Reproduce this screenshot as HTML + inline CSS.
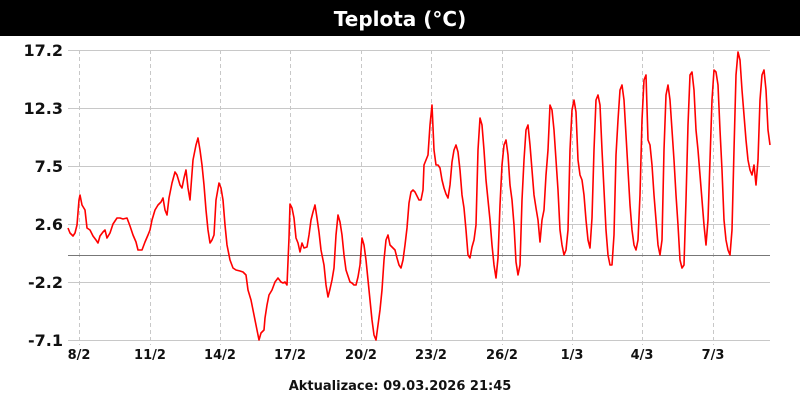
<!DOCTYPE html>
<html><head><meta charset="utf-8"><style>
body{margin:0;background:#fff;width:800px;height:400px;overflow:hidden;font-family:"DejaVu Sans","Liberation Sans",sans-serif}
</style></head><body>
<svg width="800" height="400" xmlns="http://www.w3.org/2000/svg" font-family="DejaVu Sans, Liberation Sans, sans-serif">
<rect x="0" y="0" width="800" height="36" fill="#000"/>
<text x="400" y="26" fill="#fff" font-size="20" font-weight="bold" text-anchor="middle">Teplota (°C)</text>
<g stroke="#c8c8c8" stroke-width="1">
<line x1="68" y1="50.5" x2="770" y2="50.5"/><line x1="68" y1="108.5" x2="770" y2="108.5"/>
<line x1="68" y1="166.5" x2="770" y2="166.5"/><line x1="68" y1="224.5" x2="770" y2="224.5"/>
<line x1="68" y1="282.5" x2="770" y2="282.5"/><line x1="68" y1="340.5" x2="770" y2="340.5"/>
</g>
<g stroke="#c8c8c8" stroke-width="1" stroke-dasharray="4,3">
<line x1="79.5" y1="50" x2="79.5" y2="345"/><line x1="150.5" y1="50" x2="150.5" y2="345"/>
<line x1="220.5" y1="50" x2="220.5" y2="345"/><line x1="290.5" y1="50" x2="290.5" y2="345"/>
<line x1="361.5" y1="50" x2="361.5" y2="345"/><line x1="431.5" y1="50" x2="431.5" y2="345"/>
<line x1="502.5" y1="50" x2="502.5" y2="345"/><line x1="572.5" y1="50" x2="572.5" y2="345"/>
<line x1="642.5" y1="50" x2="642.5" y2="345"/><line x1="713.5" y1="50" x2="713.5" y2="345"/>
</g>
<line x1="68" y1="255.5" x2="770" y2="255.5" stroke="#777" stroke-width="1"/>
<g font-size="16" font-weight="bold" text-anchor="end" fill="#111">
<text x="63" y="56">17.2</text><text x="63" y="114">12.3</text><text x="63" y="172">7.5</text>
<text x="63" y="230">2.6</text><text x="63" y="288">-2.2</text><text x="63" y="346">-7.1</text>
</g>
<g font-size="13" font-weight="bold" text-anchor="middle" fill="#111">
<text x="79" y="359">8/2</text><text x="150" y="359">11/2</text><text x="220" y="359">14/2</text>
<text x="290" y="359">17/2</text><text x="361" y="359">20/2</text><text x="431" y="359">23/2</text>
<text x="502" y="359">26/2</text><text x="572" y="359">1/3</text><text x="642" y="359">4/3</text>
<text x="713" y="359">7/3</text>
</g>
<text x="400" y="390" font-size="13" font-weight="bold" text-anchor="middle" fill="#111">Aktualizace: 09.03.2026 21:45</text>
<polyline fill="none" stroke="#ff0000" stroke-width="1.6" stroke-linejoin="round" points="68,228 70,233 73,236 75,233 77,225 79,200 80,195 82,205 85,210 87,228 90,230 93,236 96,240 98,243 100,236 103,232 105,230 107,238 110,233 113,224 117,218 120,218 123,219 127,218 130,226 133,235 136,242 138,250 142,250 145,242 148,235 150,230 152,220 155,210 158,205 161,202 163,198 165,210 167,215 169,198 172,183 175,172 177,175 180,185 182,188 184,178 186,170 188,188 190,200 193,160 196,145 198,138 200,150 202,165 204,185 206,210 208,230 210,243 212,240 214,235 216,200 219,183 221,188 223,200 225,225 227,245 230,260 233,268 236,270 240,271 243,272 246,275 248,290 251,300 254,315 257,330 259,340 261,333 264,330 265,318 267,305 269,295 272,290 275,282 278,278 281,282 283,283 285,282 287,285 289,238 290,204 292,208 294,218 296,238 298,243 300,252 302,243 304,248 307,247 309,235 311,220 313,212 315,205 317,218 319,232 321,250 324,265 326,285 328,297 330,289 332,280 334,268 336,235 338,215 340,222 342,235 344,255 346,270 348,276 350,282 352,283 354,285 356,285 358,277 360,265 362,238 364,245 366,260 368,280 370,300 372,320 374,335 376,340 378,325 380,310 382,290 384,260 386,240 388,235 390,245 392,247 395,250 397,258 399,265 401,268 403,260 405,245 407,228 409,203 411,192 413,190 415,192 417,196 419,200 421,200 423,190 424,165 426,160 428,155 430,125 432,105 434,150 436,165 438,165 440,168 442,180 444,188 446,194 448,198 450,185 452,162 454,150 456,145 458,152 460,170 462,195 464,208 466,230 468,255 470,258 472,247 474,240 476,225 478,150 480,118 482,125 484,150 486,180 488,200 490,220 492,245 494,265 496,278 498,258 500,205 502,165 504,145 506,140 508,155 510,185 512,200 514,225 516,262 518,275 520,265 522,200 524,160 526,130 528,125 530,145 532,170 534,195 536,208 538,220 540,242 542,220 544,210 546,175 548,150 550,105 552,110 554,130 556,160 558,190 560,230 562,245 564,255 566,250 568,230 570,150 572,110 574,100 576,112 578,160 580,175 582,180 584,195 586,220 588,240 590,248 592,218 594,150 596,100 598,95 600,105 602,150 604,190 606,230 608,255 610,265 612,265 614,235 616,155 618,120 620,90 622,85 624,100 626,135 628,170 630,205 632,230 634,245 636,250 638,240 640,195 642,120 644,80 646,75 648,140 650,145 652,165 654,195 656,220 658,245 660,255 662,240 664,150 666,95 668,85 670,100 672,130 674,160 676,195 678,225 680,260 682,268 684,265 686,200 688,125 690,75 692,72 694,90 696,130 698,150 700,175 702,200 704,225 706,245 708,220 710,160 712,100 714,70 716,72 718,85 720,130 722,170 724,220 726,240 728,250 730,255 732,230 734,150 736,75 738,52 740,60 742,90 744,115 746,140 748,160 750,170 752,175 754,165 756,185 758,160 760,100 762,75 764,70 766,90 768,130 770,145"/>
</svg>
</body></html>
